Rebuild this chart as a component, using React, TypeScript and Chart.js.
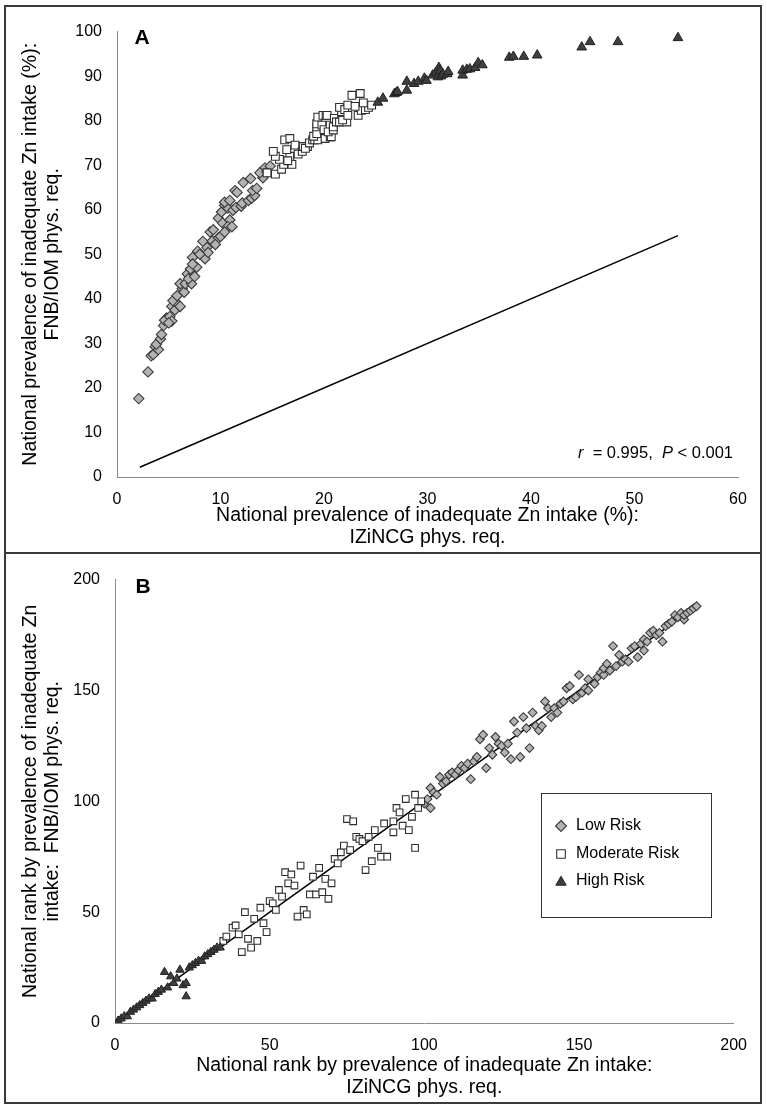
import React, { useEffect, useRef } from "react";
import { Chart, registerables } from "chart.js";

Chart.register(...registerables);

const FONT = '"Liberation Sans", Arial, sans-serif';

// ---------- Panel A: national prevalence (%) ----------
const aLowX = [2.1, 3.0, 3.3, 3.5, 3.7, 4.0, 3.8, 4.2, 4.3, 4.5, 4.8, 4.6, 5.1, 5.3, 5.0, 5.3, 5.6, 5.8, 6.1, 5.4, 5.8, 6.3, 6.1, 6.5, 6.6, 7.2, 6.8, 6.9, 7.1, 7.3, 7.5, 7.7, 7.3, 7.8, 8.3, 8.5, 8.7, 8.8, 8.0, 9.0, 9.2, 9.3, 9.8, 10.0, 9.5, 9.8, 10.1, 10.2, 10.4, 10.7, 10.9, 10.7, 11.1, 10.4, 11.2, 10.4, 10.9, 11.4, 11.5, 11.6, 12.0, 12.2, 12.9, 12.1, 12.7, 13.0, 13.3, 13.1, 13.5, 14.3, 14.1, 13.8, 14.5, 14.8];
const aLowY = [17.6, 23.6, 27.2, 27.5, 29.2, 28.6, 29.8, 31.0, 32.0, 34.0, 35.7, 35.2, 36.0, 35.0, 34.6, 38.3, 37.5, 39.0, 38.3, 39.6, 40.7, 42.3, 43.4, 41.5, 43.4, 43.4, 45.6, 44.5, 46.7, 49.3, 45.0, 47.1, 47.8, 50.7, 52.9, 49.0, 51.5, 50.4, 50.0, 55.0, 53.0, 55.5, 53.7, 54.0, 52.2, 58.1, 59.5, 57.0, 61.0, 60.4, 57.7, 56.2, 56.2, 55.0, 59.9, 61.7, 62.1, 64.3, 60.5, 63.9, 60.8, 66.1, 67.0, 61.5, 62.1, 62.6, 63.2, 64.3, 64.8, 69.4, 67.2, 68.3, 68.5, 69.8];

const aModX = [14.5, 15.3, 15.9, 16.1, 16.9, 16.7, 15.7, 15.3, 15.1, 16.4, 16.2, 16.7, 16.5, 17.2, 17.5, 17.9, 18.4, 18.0, 18.2, 18.6, 18.9, 19.1, 19.4, 19.0, 19.6, 19.3, 19.3, 19.3, 19.4, 19.9, 20.2, 20.3, 19.8, 20.0, 20.6, 20.1, 20.6, 20.7, 20.4, 20.9, 20.9, 21.0, 21.2, 21.5, 22.2, 21.8, 21.7, 21.7, 21.5, 22.0, 22.3, 22.3, 23.3, 23.6, 23.0, 24.0, 24.3, 24.6, 23.8, 22.7, 23.5];
const aModY = [68.3, 68.0, 69.1, 70.2, 70.2, 72.0, 71.3, 72.0, 73.1, 73.5, 75.7, 76.0, 71.0, 74.5, 72.5, 73.1, 74.2, 74.2, 73.8, 75.0, 75.7, 75.7, 75.7, 76.5, 77.1, 77.1, 78.6, 79.3, 80.8, 81.2, 81.2, 81.2, 79.0, 78.0, 79.0, 76.0, 76.4, 76.4, 77.5, 77.9, 78.6, 80.5, 79.7, 79.7, 79.7, 80.2, 81.9, 82.0, 83.0, 82.5, 83.5, 81.2, 81.2, 82.3, 83.2, 82.5, 83.0, 83.5, 84.0, 85.7, 86.1];

const aHighX = [25.2, 25.7, 26.8, 27.0, 27.1, 28.0, 28.0, 28.7, 29.1, 29.7, 29.9, 30.5, 30.8, 31.0, 31.1, 31.2, 31.3, 31.5, 31.9, 32.0, 33.4, 33.4, 33.8, 34.1, 34.6, 34.9, 35.3, 37.9, 38.3, 39.3, 40.6, 44.9, 45.7, 48.4, 54.2];
const aHighY = [84.1, 85.0, 86.0, 86.3, 86.5, 86.8, 88.8, 88.3, 88.8, 89.5, 89.0, 90.2, 90.8, 89.8, 91.9, 91.2, 90.0, 90.4, 90.5, 91.0, 90.2, 91.3, 91.5, 91.6, 91.9, 93.0, 92.5, 94.2, 94.4, 94.4, 94.7, 96.5, 97.7, 97.7, 98.6];

const aLineX = [2.2, 54.2];
const aLineY = [2.2, 54.2];

const aMaxX = 60;
const aMaxY = 100;
const aStepX = 10;
const aStepY = 10;

// ---------- Panel B: national rank ----------
const bLowX = [100, 101, 102, 102, 103, 104, 105, 106, 107, 108, 109, 110, 111, 112, 113, 114, 115, 116, 117, 118, 119, 120, 121, 122, 123, 124, 125, 126, 127, 128, 129, 130, 131, 132, 133, 134, 135, 136, 137, 138, 139, 140, 141, 142, 143, 144, 145, 146, 147, 148, 149, 150, 151, 152, 153, 153, 155, 156, 157, 158, 158, 159, 160, 161, 162, 163, 164, 165, 166, 167, 168, 169, 170, 171, 171, 172, 173, 174, 175, 176, 177, 178, 179, 180, 181, 182, 183, 184, 184, 185, 186, 187, 188];
const bLowY = [99, 101, 97, 106, 104, 103, 111, 108, 109, 112, 113, 112, 114, 116, 115, 117, 110, 118, 120, 128, 130, 115, 124, 121, 129, 126, 125, 122, 126, 119, 136, 131, 120, 138, 133, 124, 140, 134, 132, 134, 145, 142, 138, 142, 140, 144, 145, 151, 152, 146, 147, 157, 149, 151, 155, 150, 153, 156, 158, 157, 160, 162, 159, 170, 161, 166, 163, 164, 163, 169, 170, 165, 171, 168, 173, 172, 176, 177, 175, 176, 172, 179, 180, 181, 184, 183, 185, 182, 184, 185, 186, 187, 188];

const bModX = [35, 36, 38, 39, 40, 41, 43, 42, 44, 45, 46, 47, 48, 49, 50, 51, 52, 53, 54, 55, 56, 57, 58, 59, 60, 61, 62, 63, 64, 65, 66, 67, 68, 69, 70, 71, 72, 73, 74, 75, 76, 77, 78, 79, 80, 81, 82, 83, 84, 85, 86, 87, 88, 90, 90, 91, 92, 93, 94, 95, 96, 97, 97, 98, 99];
const bModY = [37, 39, 43, 44, 40, 32, 38, 50, 34, 47, 37, 52, 45, 41, 55, 54, 51, 60, 57, 68, 63, 67, 62, 48, 71, 51, 49, 58, 66, 58, 70, 59, 65, 56, 63, 74, 72, 77, 80, 92, 78, 91, 84, 83, 82, 69, 84, 73, 87, 79, 75, 90, 75, 91, 86, 97, 95, 89, 101, 87, 93, 103, 79, 97, 100];

const bHighX = [1, 2, 3, 4, 5, 6, 7, 8, 9, 10, 11, 12, 13, 14, 15, 16, 17, 18, 19, 20, 21, 22, 23, 23, 24, 25, 26, 27, 28, 29, 30, 31, 32, 33, 34];
const bHighY = [1, 2, 3, 3, 5, 6, 7, 8, 9, 10, 11, 11, 13, 14, 15, 23, 16, 21, 18, 20, 24, 17, 18, 12, 25, 26, 27, 28, 28, 30, 31, 32, 33, 34, 34];

const bLineX = [1, 188];
const bLineY = [1, 188];

const bMax = 200;
const bStep = 50;

const legendLabels = ["Low Risk", "Moderate Risk", "High Risk"];

// ---------- helpers ----------
const pts = (xs: number[], ys: number[]) => xs.map((x, i) => ({ x, y: ys[i] }));

const LOW_FILL = "#b3b3b3";
const LOW_EDGE = "#3a3a3a";
const MOD_FILL = "#ffffff";
const MOD_EDGE = "#2e2e2e";
const HIGH_FILL = "#3f3f3f";
const HIGH_EDGE = "#222222";
const AXIS = "#8a8a8a";
const TEXT = "#000000";
const TITLE_SIZE = 19.5;

function seriesSets(lx, ly, mx, my, hx, hy, linex, liney, r) {
  return [
    {
      label: "line",
      data: pts(linex, liney),
      showLine: true,
      pointRadius: 0,
      borderColor: "#000",
      borderWidth: 1.5,
      order: 4,
    },
    {
      label: legendLabels[0],
      data: pts(lx, ly),
      pointStyle: "rectRot",
      pointRadius: r,
      backgroundColor: LOW_FILL,
      borderColor: LOW_EDGE,
      borderWidth: 1.1,
      order: 3,
    },
    {
      label: legendLabels[1],
      data: pts(mx, my),
      pointStyle: "rect",
      pointRadius: r + 0.3,
      backgroundColor: MOD_FILL,
      borderColor: MOD_EDGE,
      borderWidth: 1.1,
      order: 2,
    },
    {
      label: legendLabels[2],
      data: pts(hx, hy),
      pointStyle: "triangle",
      pointRadius: r + 0.4,
      backgroundColor: HIGH_FILL,
      borderColor: HIGH_EDGE,
      borderWidth: 1,
      order: 1,
    },
  ];
}

function makeScales(opts) {
  return {
    x: {
      type: "linear",
      min: 0,
      max: opts.maxX,
      afterFit: (s) => {
        s.height = opts.xHeight;
      },
      grid: { display: false, drawTicks: false },
      border: { display: true, color: AXIS, width: 1 },
      ticks: {
        stepSize: opts.stepX,
        padding: 13,
        color: TEXT,
        font: { family: FONT, size: 16 },
      },
      title: {
        display: true,
        text: opts.xTitle,
        color: TEXT,
        font: { family: FONT, size: TITLE_SIZE, lineHeight: 1.1 },
        padding: { top: 0, bottom: 4 },
      },
    },
    y: {
      type: "linear",
      min: 0,
      max: opts.maxY,
      afterFit: (s) => {
        s.width = opts.yWidth;
      },
      grid: { display: false, drawTicks: false },
      border: { display: true, color: AXIS, width: 1 },
      ticks: {
        stepSize: opts.stepY,
        padding: 15,
        color: TEXT,
        font: { family: FONT, size: 16 },
      },
      title: {
        display: true,
        text: opts.yTitle,
        color: TEXT,
        font: { family: FONT, size: TITLE_SIZE, lineHeight: 1.1 },
        padding: { top: 14, bottom: 0 },
      },
    },
  };
}

function drawDiamond(ctx, x, y, r) {
  ctx.beginPath();
  ctx.moveTo(x, y - r);
  ctx.lineTo(x + r, y);
  ctx.lineTo(x, y + r);
  ctx.lineTo(x - r, y);
  ctx.closePath();
  ctx.fillStyle = LOW_FILL;
  ctx.fill();
  ctx.strokeStyle = LOW_EDGE;
  ctx.lineWidth = 1.1;
  ctx.stroke();
}
function drawSquare(ctx, x, y, h) {
  ctx.beginPath();
  ctx.rect(x - h, y - h, 2 * h, 2 * h);
  ctx.fillStyle = MOD_FILL;
  ctx.fill();
  ctx.strokeStyle = MOD_EDGE;
  ctx.lineWidth = 1.1;
  ctx.stroke();
}
function drawTriangle(ctx, x, y, r) {
  ctx.beginPath();
  for (let i = 0; i < 3; i++) {
    const a = (i * 2 * Math.PI) / 3;
    const px = x + Math.sin(a) * r;
    const py = y - Math.cos(a) * r + r * 0.2;
    if (i === 0) ctx.moveTo(px, py);
    else ctx.lineTo(px, py);
  }
  ctx.closePath();
  ctx.fillStyle = HIGH_FILL;
  ctx.fill();
  ctx.strokeStyle = HIGH_EDGE;
  ctx.lineWidth = 1;
  ctx.stroke();
}

const panelLabelPlugin = (letter: string, x: number, y: number) => ({
  id: "panelLabel" + letter,
  afterDraw(chart) {
    const ctx = chart.ctx;
    ctx.save();
    ctx.fillStyle = TEXT;
    ctx.font = `bold 21px ${FONT}`;
    ctx.textAlign = "center";
    ctx.textBaseline = "middle";
    ctx.fillText(letter, x, y);
    ctx.restore();
  },
});

const statPlugin = {
  id: "statText",
  afterDraw(chart) {
    const ctx = chart.ctx;
    const parts = [
      { t: "r", i: true },
      { t: "  = 0.995,  ", i: false },
      { t: "P", i: true },
      { t: " < 0.001", i: false },
    ];
    ctx.save();
    ctx.fillStyle = TEXT;
    ctx.textBaseline = "middle";
    ctx.textAlign = "left";
    let total = 0;
    const widths = parts.map((p) => {
      ctx.font = `${p.i ? "italic " : ""}16.5px ${FONT}`;
      const w = ctx.measureText(p.t).width;
      total += w;
      return w;
    });
    let x = 727 - total;
    const y = 446;
    parts.forEach((p, k) => {
      ctx.font = `${p.i ? "italic " : ""}16.5px ${FONT}`;
      ctx.fillText(p.t, x, y);
      x += widths[k];
    });
    ctx.restore();
  },
};

const legendPlugin = {
  id: "customLegend",
  afterDraw(chart) {
    const ctx = chart.ctx;
    const bx = 535,
      by = 238,
      bw = 170,
      bh = 124;
    ctx.save();
    ctx.fillStyle = "#fff";
    ctx.fillRect(bx, by, bw, bh);
    ctx.strokeStyle = "#333";
    ctx.lineWidth = 1;
    ctx.strokeRect(bx + 0.5, by + 0.5, bw, bh);
    const rows = [by + 33, by + 61, by + 88];
    const mx = bx + 20;
    drawDiamond(ctx, mx, rows[0], 5.5);
    drawSquare(ctx, mx, rows[1], 4.3);
    drawTriangle(ctx, mx, rows[2], 6);
    ctx.fillStyle = TEXT;
    ctx.font = `16px ${FONT}`;
    ctx.textBaseline = "middle";
    ctx.textAlign = "left";
    legendLabels.forEach((l, i) => ctx.fillText(l, bx + 35, rows[i]));
    ctx.restore();
  },
};

function Panel({ left, top, width, height, config }) {
  const ref = useRef<HTMLCanvasElement | null>(null);
  useEffect(() => {
    if (!ref.current) return;
    const chart = new Chart(ref.current, config());
    return () => chart.destroy();
  }, []);
  return (
    <canvas
      ref={ref}
      width={width}
      height={height}
      style={{ position: "absolute", left, top, width, height }}
    />
  );
}

const configA = () => ({
  type: "scatter",
  data: {
    datasets: seriesSets(aLowX, aLowY, aModX, aModY, aHighX, aHighY, aLineX, aLineY, 5.2),
  },
  options: {
    responsive: false,
    animation: false,
    devicePixelRatio: 1,
    layout: { padding: { left: 0, right: 22, top: 16, bottom: 0 } },
    plugins: { legend: { display: false }, tooltip: { enabled: false } },
    scales: makeScales({
      maxX: aMaxX,
      maxY: aMaxY,
      stepX: aStepX,
      stepY: aStepY,
      xHeight: 75,
      yWidth: 111,
      xTitle: ["National prevalence of inadequate Zn intake (%):", "IZiNCG phys. req."],
      yTitle: ["National prevalence of inadequate Zn intake (%):", "FNB/IOM phys. req."],
    }),
  },
  plugins: [panelLabelPlugin("A", 136, 31), statPlugin],
});

const configB = () => ({
  type: "scatter",
  data: {
    datasets: seriesSets(bLowX, bLowY, bModX, bModY, bHighX, bHighY, bLineX, bLineY, 4.4),
  },
  options: {
    responsive: false,
    animation: false,
    devicePixelRatio: 1,
    layout: { padding: { left: 0, right: 23, top: 17, bottom: 0 } },
    plugins: { legend: { display: false }, tooltip: { enabled: false } },
    scales: makeScales({
      maxX: bMax,
      maxY: bMax,
      stepX: bStep,
      stepY: bStep,
      xHeight: 79,
      yWidth: 109,
      xTitle: ["National rank by prevalence of inadequate Zn intake:", "IZiNCG phys. req."],
      yTitle: ["National rank by prevalence of inadequate Zn", "intake:  FNB/IOM phys. req."],
    }),
  },
  plugins: [panelLabelPlugin("B", 137, 32), legendPlugin],
});

export default function App() {
  return (
    <div style={{ position: "absolute", left: 0, top: 0, width: 767, height: 1108, background: "#fff", fontFamily: FONT }}>
      <Panel left={6} top={7} width={754} height={545} config={configA} />
      <Panel left={6} top={555} width={754} height={547} config={configB} />
      <div
        style={{
          position: "absolute",
          left: 4,
          top: 5,
          width: 758,
          height: 1099,
          border: "2px solid #3a3a3a",
          boxSizing: "border-box",
          pointerEvents: "none",
        }}
      />
      <div style={{ position: "absolute", left: 4, top: 552, width: 758, height: 2, background: "#3a3a3a" }} />
    </div>
  );
}
